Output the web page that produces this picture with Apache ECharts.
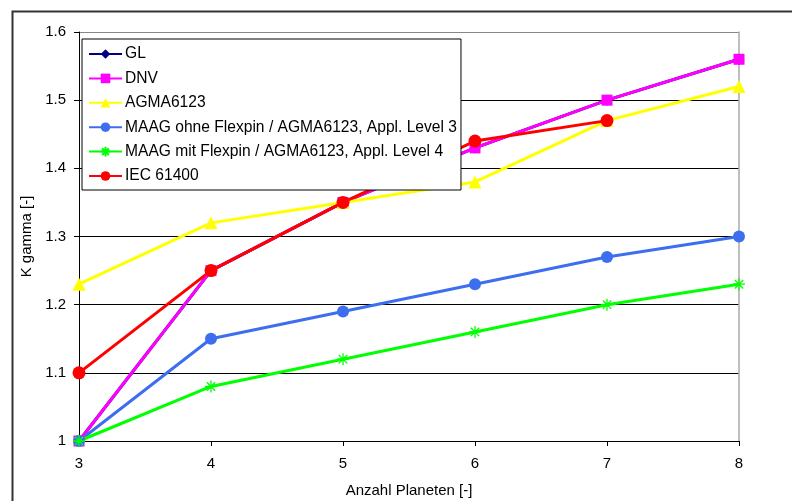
<!DOCTYPE html>
<html><head><meta charset="utf-8">
<script src="https://cdn.jsdelivr.net/npm/echarts@6/dist/echarts.min.js"></script>
<style>html,body{margin:0;padding:0;background:#fff}#c{width:792px;height:501px}</style>
</head><body><div id="c"></div>
<script>
const categories = ['3','4','5','6','7','8'];
const yTicks = [1, 1.1, 1.2, 1.3, 1.4, 1.5, 1.6];
const gl = [1.0, 1.25, 1.35, 1.43, 1.5, 1.56];
const dnv = [1.0, 1.25, 1.35, 1.43, 1.5, 1.56];
const agma = [1.23, 1.32, 1.35, 1.38, 1.47, 1.52];
const maagOhne = [1.0, 1.15, 1.19, 1.23, 1.27, 1.30];
const maagMit = [1.0, 1.08, 1.12, 1.16, 1.20, 1.23];
const iec = [1.1, 1.25, 1.35, 1.44, 1.47, null];
const names = ['GL','DNV','AGMA6123','MAAG ohne Flexpin / AGMA6123, Appl. Level 3','MAAG mit Flexpin / AGMA6123, Appl. Level 4','IEC 61400'];

const font = 'Liberation Sans, Arial, sans-serif';
const star = 'path://M0,5L10,5M5,0L5,10M1.5,1.5L8.5,8.5M8.5,1.5L1.5,8.5';
function s(name, data, color, symbol, size, extra) {
  return Object.assign({
    name, type: 'line', data, symbol, symbolSize: size,
    lineStyle: { color, width: 3 },
    itemStyle: { color },
    connectNulls: false, animation: false
  }, extra || {});
}
const chart = echarts.init(document.getElementById('c'), null, {renderer: 'canvas'});
chart.setOption({
  animation: false,
  textStyle: { fontFamily: font },
  graphic: [{ type: 'rect', left: 10, top: 9, shape: { width: 800, height: 510 }, style: { fill: 'none', stroke: '#333', lineWidth: 2 }, silent: true }],
  grid: { left: 79, right: 53, top: 32, bottom: 60, containLabel: false, outerBoundsMode: 'none' },
  legend: {
    orient: 'vertical', left: 82, top: 39,
    data: names,
    itemWidth: 33, itemHeight: 12, itemGap: 8.4,
    padding: [7, 4, 6, 6],
    backgroundColor: '#fff', borderColor: '#000', borderWidth: 1,
    textStyle: { fontFamily: font, fontSize: 15.6, color: '#000', padding: [0,0,0,-2] }
  },
  xAxis: {
    type: 'category', data: categories, boundaryGap: false,
    name: 'Anzahl Planeten [-]', nameLocation: 'middle', nameGap: 42,
    nameTextStyle: { fontFamily: font, fontSize: 15, color: '#000' },
    axisLine: { lineStyle: { color: '#000', width: 1 } },
    axisTick: { show: true, length: 5, lineStyle: { color: '#000' } },
    axisLabel: { fontFamily: font, fontSize: 15, color: '#000', margin: 15 },
    splitLine: { show: false }
  },
  yAxis: [{
    type: 'value', min: 1, max: 1.6, interval: 0.1,
    name: 'K gamma [-]', nameLocation: 'middle', nameGap: 39,
    nameTextStyle: { fontFamily: font, fontSize: 15, color: '#000' },
    axisLine: { show: true, lineStyle: { color: '#000', width: 1 } },
    axisTick: { show: true, length: 5, lineStyle: { color: '#000' } },
    axisLabel: { fontFamily: font, fontSize: 15, color: '#000', margin: 13,
      formatter: v => String(+v.toFixed(1)) },
    splitLine: { show: true, lineStyle: { color: ['#000','#000','#000','#000','#000','#000','#888'], width: 1 } }
  }, {
    type: 'value', min: 1, max: 1.6, interval: 0.1, position: 'right',
    axisLine: { show: true, lineStyle: { color: '#aaa', width: 1.5 } },
    axisTick: { show: false }, axisLabel: { show: false }, splitLine: { show: false }
  }],
  series: [
    s(names[0], gl, '#000080', 'diamond', 11),
    s(names[1], dnv, '#FF00FF', 'rect', 11),
    s(names[2], agma, '#FFFF00', 'triangle', 13),
    s(names[3], maagOhne, '#3D6EF0', 'circle', 12),
    s(names[4], maagMit, '#00FF00', star, 12, { itemStyle: { color: 'none', borderColor: '#00FF00', borderWidth: 1.3 } }),
    s(names[5], iec, '#FF0000', 'circle', 13)
  ]
});
</script></body></html>
